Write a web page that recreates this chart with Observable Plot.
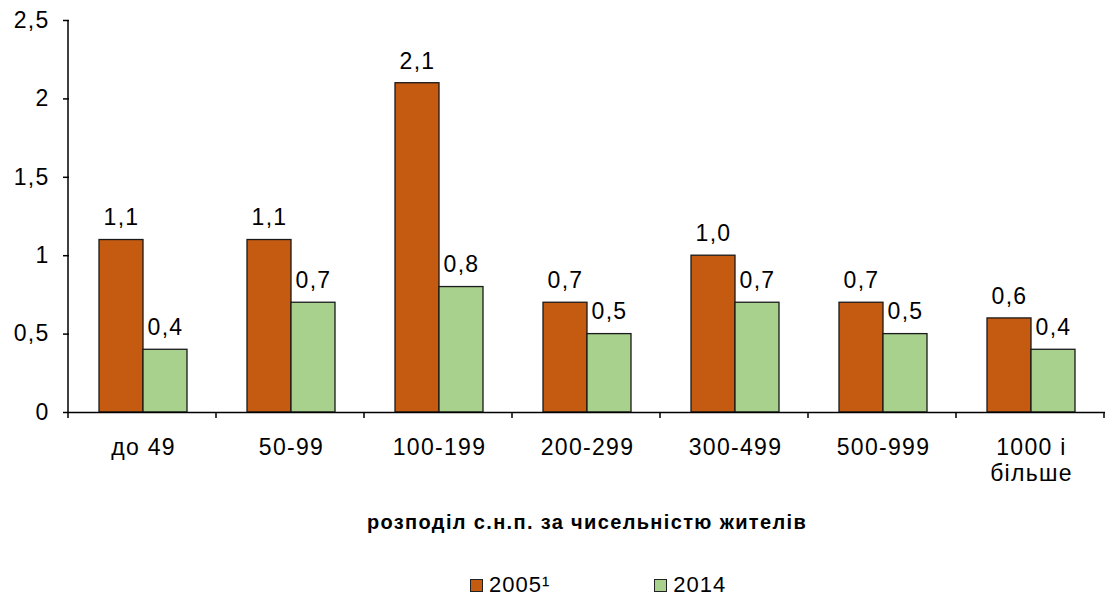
<!DOCTYPE html>
<html>
<head>
<meta charset="utf-8">
<script src="https://cdn.jsdelivr.net/npm/d3@7"></script>
<script src="https://cdn.jsdelivr.net/npm/@observablehq/plot@0.6"></script>
<style>
  body { margin: 0; background: #fff; }
  #wrap { position: relative; width: 1109px; height: 597px; font-family: "Liberation Sans", Arial, sans-serif; color: #000; }
  #title { position: absolute; top: 510px; left: 68px; width: 1038px; text-align: center; font-weight: bold; font-size: 20px; letter-spacing: 1.35px; line-height: 24px; }
  #legend { position: absolute; top: 572px; left: 470px; display: flex; align-items: center; font-size: 22px; letter-spacing: 1px; line-height: 26px; }
  .item { display: flex; align-items: center; }
  .sw { width: 11px; height: 11px; border: 1px solid #222; margin-right: 6px; }
</style>
</head>
<body>
<div id="wrap">
  <div id="chart"></div>
  <div id="title"></div>
  <div id="legend"></div>
</div>
<script>
const categories = ["до 49", "50-99", "100-199", "200-299", "300-499", "500-999", "1000 і\nбільше"];
const series = ["2005¹", "2014"];
const values2005 = [1.1, 1.1, 2.1, 0.7, 1.0, 0.7, 0.6];
const values2014 = [0.4, 0.7, 0.8, 0.5, 0.7, 0.5, 0.4];
const yTicks = [0, 0.5, 1, 1.5, 2, 2.5];
const colors = ["#C55A11", "#A9D18E"];
const axisTitle = "розподіл с.н.п. за чисельністю жителів";

const data = categories.flatMap((c, i) => [
  {cat: c, series: series[0], value: values2005[i]},
  {cat: c, series: series[1], value: values2014[i]}
]);
const fmt = d => d.toFixed(1).replace(".", ",");

const chart = Plot.plot({
  width: 1109,
  height: 500,
  marginLeft: 68,
  marginRight: 3,
  marginTop: 20,
  marginBottom: 88,
  style: {fontFamily: "'Liberation Sans', Arial, sans-serif", fontSize: "23px", color: "#000", background: "#fff", letterSpacing: "1.3px", overflow: "visible"},
  fx: {domain: categories, padding: 0, label: null},
  x: {domain: series, paddingInner: 0, paddingOuter: 0.667, axis: null, label: null},
  y: {domain: [0, 2.5], label: null},
  color: {domain: series, range: colors},
  marks: [
    Plot.axisY({ticks: yTicks, tickFormat: d => String(d).replace(".", ","), tickSize: 6, tickPadding: 14, label: null, strokeWidth: 1.5}),
    Plot.axisFx({anchor: "bottom", tickSize: 0, tickPadding: 25, label: null, lineHeight: 1.1}),
    Plot.barY(data, {fx: "cat", x: "series", y: "value", fill: "series", stroke: "#1a1a1a", strokeWidth: 1.3}),
    Plot.ruleY([0], {stroke: "#000", strokeWidth: 1.5}),
    Plot.text(data, {fx: "cat", x: "series", y: "value", text: d => fmt(d.value), dy: -22, fontSize: 23, letterSpacing: "1px"})
  ]
});
document.getElementById("chart").appendChild(chart);

// y axis line and category boundary ticks, positioned from Plot's scales
const ys = chart.scale("y");
const fxs = chart.scale("fx");
const yPos = v => ys.apply ? ys.apply(v) : 0;
const y0 = yPos(0), yTop = yPos(2.5);
const start = fxs.range[0], step = fxs.step || fxs.bandwidth;
const svg = d3.select(chart);
const g = svg.append("g").attr("stroke", "#000").attr("stroke-width", 1.5);
g.append("line").attr("x1", start).attr("x2", start).attr("y1", yTop).attr("y2", y0);
d3.range(categories.length + 1).forEach(i => {
  const x = start + i * step;
  g.append("line").attr("x1", x).attr("x2", x).attr("y1", y0).attr("y2", y0 + 6);
});

document.getElementById("title").textContent = axisTitle;
const legend = document.getElementById("legend");
series.forEach((s, i) => {
  const item = document.createElement("div");
  item.className = "item";
  if (i > 0) item.style.marginLeft = "104px";
  const sw = document.createElement("div");
  sw.className = "sw";
  sw.style.background = colors[i];
  const t = document.createElement("span");
  t.textContent = s;
  item.appendChild(sw);
  item.appendChild(t);
  legend.appendChild(item);
});
</script>
</body>
</html>
